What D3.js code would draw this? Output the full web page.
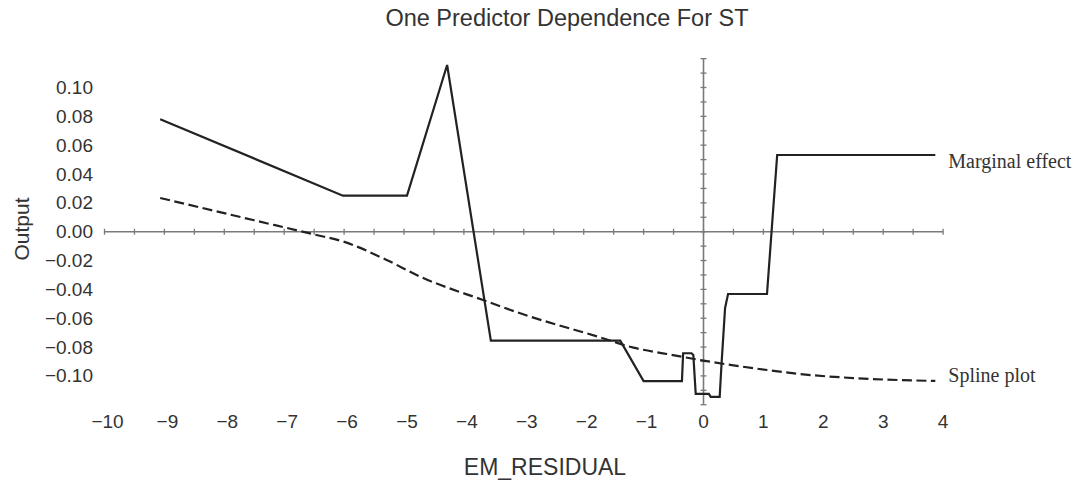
<!DOCTYPE html>
<html>
<head>
<meta charset="utf-8">
<script src="https://cdn.jsdelivr.net/npm/d3@7"></script>
<style>
  html, body { margin: 0; padding: 0; background: #fff; }
  svg { display: block; }
</style>
</head>
<body>
<svg id="chart" width="1080" height="486"></svg>
<script>
// Marginal effect of EM_RESIDUAL on ST (piecewise response)
const marginalX = [-9.07, -6.02, -4.95, -4.28, -3.55, -1.39, -1.00, -0.36, -0.34, -0.20, -0.17, -0.13, 0.09, 0.12, 0.27, 0.30, 0.36, 0.41, 1.06, 1.23, 3.87];
const marginalY = [0.078, 0.025, 0.025, 0.1156, -0.0756, -0.0756, -0.1036, -0.1036, -0.0843, -0.0843, -0.0855, -0.1125, -0.1125, -0.1145, -0.1145, -0.0924, -0.053, -0.0432, -0.0432, 0.0532, 0.0532];

// Smoothed spline fit
const splineX = [-9.07, -7.52, -6.51, -6.01, -5.29, -4.73, -3.68, -3.06, -1.73, -1.17, -0.61, 0.0, 0.5, 1.06, 1.61, 2.5, 3.87];
const splineY = [0.0234, 0.0081, -0.0018, -0.0069, -0.0196, -0.0312, -0.0474, -0.0566, -0.0732, -0.0804, -0.0848, -0.0894, -0.0927, -0.0959, -0.0987, -0.1015, -0.1035];

const xTicks = [-10, -9, -8, -7, -6, -5, -4, -3, -2, -1, 0, 1, 2, 3, 4];
const yTicks = [-0.10, -0.08, -0.06, -0.04, -0.02, 0.00, 0.02, 0.04, 0.06, 0.08, 0.10];

const svg = d3.select("#chart");
const x = d3.scaleLinear().domain([0, 4]).range([703.5, 943.1]);
const y = d3.scaleLinear().domain([0, 0.1]).range([231.7, 87.5]);

const axisColor = "#7a7a7a";
const inkColor = "#222";
const fmtMinus = s => s.replace("-", "\u2212");
const sans = "Liberation Sans, Arial, sans-serif";
const serif = "Liberation Serif, Times New Roman, serif";

// Title
svg.append("text")
  .attr("x", 567).attr("y", 26)
  .attr("text-anchor", "middle")
  .attr("font-family", sans)
  .attr("font-size", 23.5)
  .attr("fill", "#333")
  .text("One Predictor Dependence For ST");

// Horizontal axis through y = 0
svg.append("line")
  .attr("x1", x(-10)).attr("x2", x(4))
  .attr("y1", y(0)).attr("y2", y(0))
  .attr("stroke", axisColor).attr("stroke-width", 1.6);

// Minor ticks every 0.5 on the horizontal axis
const xMinor = d3.range(-20, 9).map(i => i / 2);
svg.append("g").selectAll("line").data(xMinor).join("line")
  .attr("x1", d => x(d)).attr("x2", d => x(d))
  .attr("y1", y(0) - 3).attr("y2", y(0) + 3)
  .attr("stroke", axisColor).attr("stroke-width", 1.3);

// Vertical axis through x = 0
svg.append("line")
  .attr("x1", x(0)).attr("x2", x(0))
  .attr("y1", y(0.12)).attr("y2", y(-0.12))
  .attr("stroke", axisColor).attr("stroke-width", 1.6);

const yMinor = d3.range(-12, 13).map(i => i / 100);
svg.append("g").selectAll("line").data(yMinor).join("line")
  .attr("x1", x(0) - 3).attr("x2", x(0) + 3)
  .attr("y1", d => y(d)).attr("y2", d => y(d))
  .attr("stroke", axisColor).attr("stroke-width", 1.3);

// Tick labels
svg.append("g").selectAll("text").data(xTicks).join("text")
  .attr("x", d => x(d) + (d < 0 ? 3 : 0))
  .attr("y", 428)
  .attr("text-anchor", "middle")
  .attr("font-family", sans)
  .attr("font-size", 19)
  .attr("fill", "#333")
  .text(d => fmtMinus(String(d)));

svg.append("g").selectAll("text").data(yTicks).join("text")
  .attr("x", 93)
  .attr("y", d => y(d) + 6.5)
  .attr("text-anchor", "end")
  .attr("font-family", sans)
  .attr("font-size", 19)
  .attr("fill", "#333")
  .text(d => fmtMinus(d3.format(".2f")(d)));

// Axis titles
svg.append("text")
  .attr("transform", "translate(29,229) rotate(-90)")
  .attr("text-anchor", "middle")
  .attr("font-family", sans)
  .attr("font-size", 21)
  .attr("fill", "#333")
  .text("Output");

svg.append("text")
  .attr("x", 545).attr("y", 475)
  .attr("text-anchor", "middle")
  .attr("font-family", sans)
  .attr("font-size", 23)
  .attr("fill", "#333")
  .text("EM_RESIDUAL");

// Curves
const marginal = marginalX.map((v, i) => [v, marginalY[i]]);
const spline = splineX.map((v, i) => [v, splineY[i]]);

svg.append("path")
  .datum(spline)
  .attr("d", d3.line().x(d => x(d[0])).y(d => y(d[1])).curve(d3.curveMonotoneX))
  .attr("fill", "none")
  .attr("stroke", inkColor)
  .attr("stroke-width", 2.2)
  .attr("stroke-dasharray", "10,4.5");

svg.append("path")
  .datum(marginal)
  .attr("d", d3.line().x(d => x(d[0])).y(d => y(d[1])))
  .attr("fill", "none")
  .attr("stroke", inkColor)
  .attr("stroke-width", 2.2)
  .attr("stroke-linejoin", "miter");

// Curve labels
const lastM = marginal[marginal.length - 1];
const lastS = spline[spline.length - 1];
svg.append("text")
  .attr("x", x(lastM[0]) + 13).attr("y", y(lastM[1]) + 13)
  .attr("font-family", serif)
  .attr("font-size", 20)
  .attr("fill", "#333")
  .text("Marginal effect");

svg.append("text")
  .attr("x", x(lastS[0]) + 13).attr("y", y(lastS[1]) + 1)
  .attr("font-family", serif)
  .attr("font-size", 20)
  .attr("fill", "#333")
  .text("Spline plot");
</script>
</body>
</html>
